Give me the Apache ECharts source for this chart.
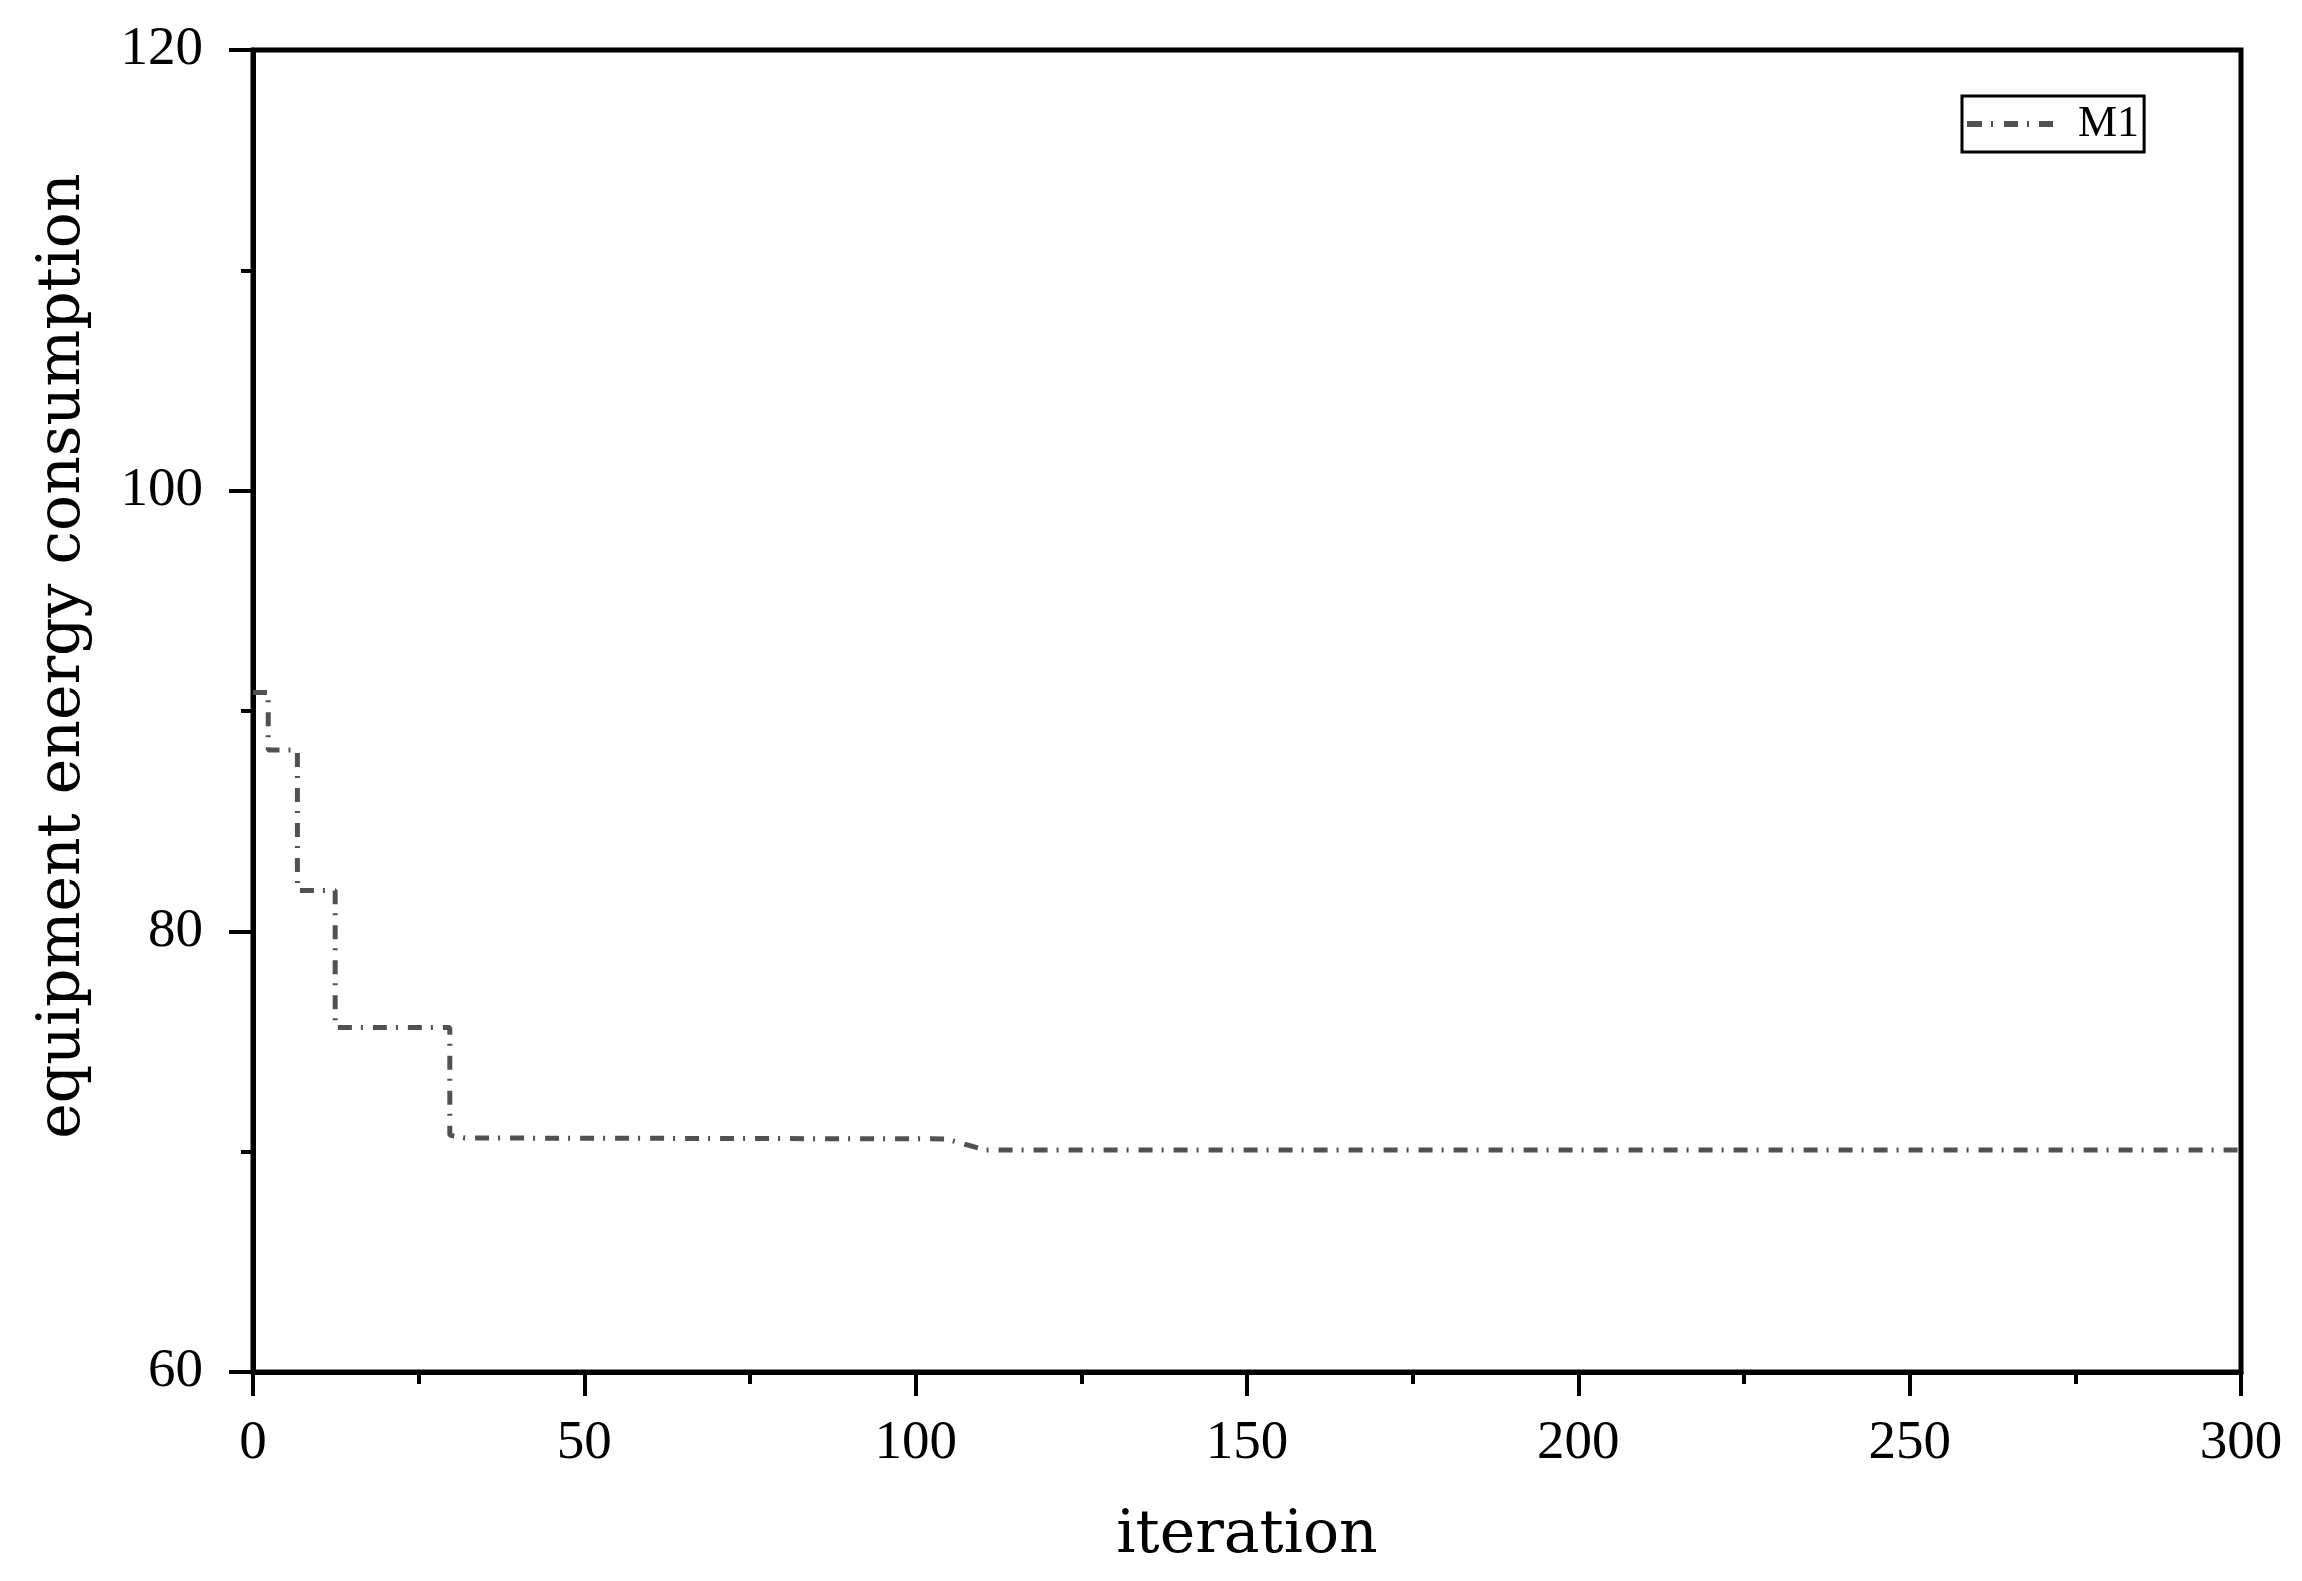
<!DOCTYPE html>
<html>
<head>
<meta charset="utf-8">
<title>equipment energy consumption</title>
<script src="https://cdn.jsdelivr.net/npm/echarts@6/dist/echarts.min.js"></script>
<style>
  html, body { margin: 0; padding: 0; background: #fff; }
  #chartdiv { width: 2302px; height: 1581px; }
</style>
</head>
<body>
<div id="chartdiv"></div>
<script>
// breakpoints of the M1 curve (iteration, energy)
var iterations = [0, 2.3, 2.3, 6.7, 6.7, 12.4, 12.4, 29.7, 29.7, 32, 104.5, 110.5, 300];
var energy = [90.84, 90.84, 88.23, 88.23, 81.85, 81.85, 75.63, 75.63, 70.75, 70.62, 70.58, 70.08, 70.08];
var seriesName = 'M1';
var xTicks = [0, 50, 100, 150, 200, 250, 300];
var yTicks = [60, 80, 100, 120];

function energyChart() {
  if (document.getElementById('chartdiv') == null) {
    return;
  }
  var myChart = echarts.init(document.getElementById('chartdiv'));
  var points = [];
  for (var i = 0; i < iterations.length; i++) {
    points.push([iterations[i], energy[i]]);
  }
  var numFont = 'Liberation Serif';
  var nameFont = 'DejaVu Serif';
  // dash-dot sample for the legend (86 x 6)
  var dashDotIcon = 'path://M0,0H15V6H0Z M24,0H26V6H24Z M37,0H51V6H37Z M60,0H62V6H60Z M72,0H86V6H72Z';
  var option = {
    backgroundColor: '#ffffff',
    animation: false,
    grid: {
      left: 253,
      right: 61,
      top: 50,
      bottom: 209,
      show: true,
      borderColor: '#000',
      borderWidth: 5,
      backgroundColor: 'transparent'
    },
    legend: {
      data: [{ name: seriesName, icon: dashDotIcon }],
      left: 1962,
      top: 96,
      orient: 'vertical',
      padding: [6, 5, 6, 5],
      borderColor: '#000',
      borderWidth: 3,
      itemWidth: 86,
      itemHeight: 6,
      itemStyle: { color: '#515151' },
      textStyle: {
        fontFamily: numFont,
        fontSize: 44,
        color: '#000',
        padding: [0, 0, 0, 20]
      }
    },
    xAxis: {
      type: 'value',
      min: xTicks[0],
      max: xTicks[xTicks.length - 1],
      interval: 50,
      name: 'iteration',
      nameLocation: 'middle',
      nameGap: 134,
      nameTextStyle: { fontFamily: nameFont, fontSize: 60, color: '#000' },
      axisLine: { onZero: false, lineStyle: { color: '#000', width: 5 } },
      axisTick: { show: true, inside: false, length: 24, lineStyle: { color: '#000', width: 4 } },
      minorTick: { show: true, splitNumber: 2, length: 12, lineStyle: { color: '#000', width: 4 } },
      axisLabel: { margin: 44, fontFamily: numFont, fontSize: 55, color: '#000' },
      splitLine: { show: false }
    },
    yAxis: {
      type: 'value',
      min: yTicks[0],
      max: yTicks[yTicks.length - 1],
      interval: 20,
      name: 'equipment energy consumption',
      nameLocation: 'middle',
      nameGap: 160,
      nameTextStyle: { fontFamily: nameFont, fontSize: 60, color: '#000', padding: [0, 0, 0, 110] },
      axisLine: { onZero: false, lineStyle: { color: '#000', width: 5 } },
      axisTick: { show: true, inside: false, length: 24, lineStyle: { color: '#000', width: 4 } },
      minorTick: { show: true, splitNumber: 2, length: 12, lineStyle: { color: '#000', width: 4 } },
      axisLabel: { margin: 50, fontFamily: numFont, fontSize: 55, color: '#000' },
      splitLine: { show: false }
    },
    series: [
      {
        name: seriesName,
        type: 'line',
        data: points,
        symbol: 'none',
        lineStyle: { color: '#515151', width: 5, type: [14, 9, 2, 10] },
        itemStyle: { color: '#515151' }
      }
    ]
  };
  myChart.setOption(option);
}
energyChart();
</script>
</body>
</html>
